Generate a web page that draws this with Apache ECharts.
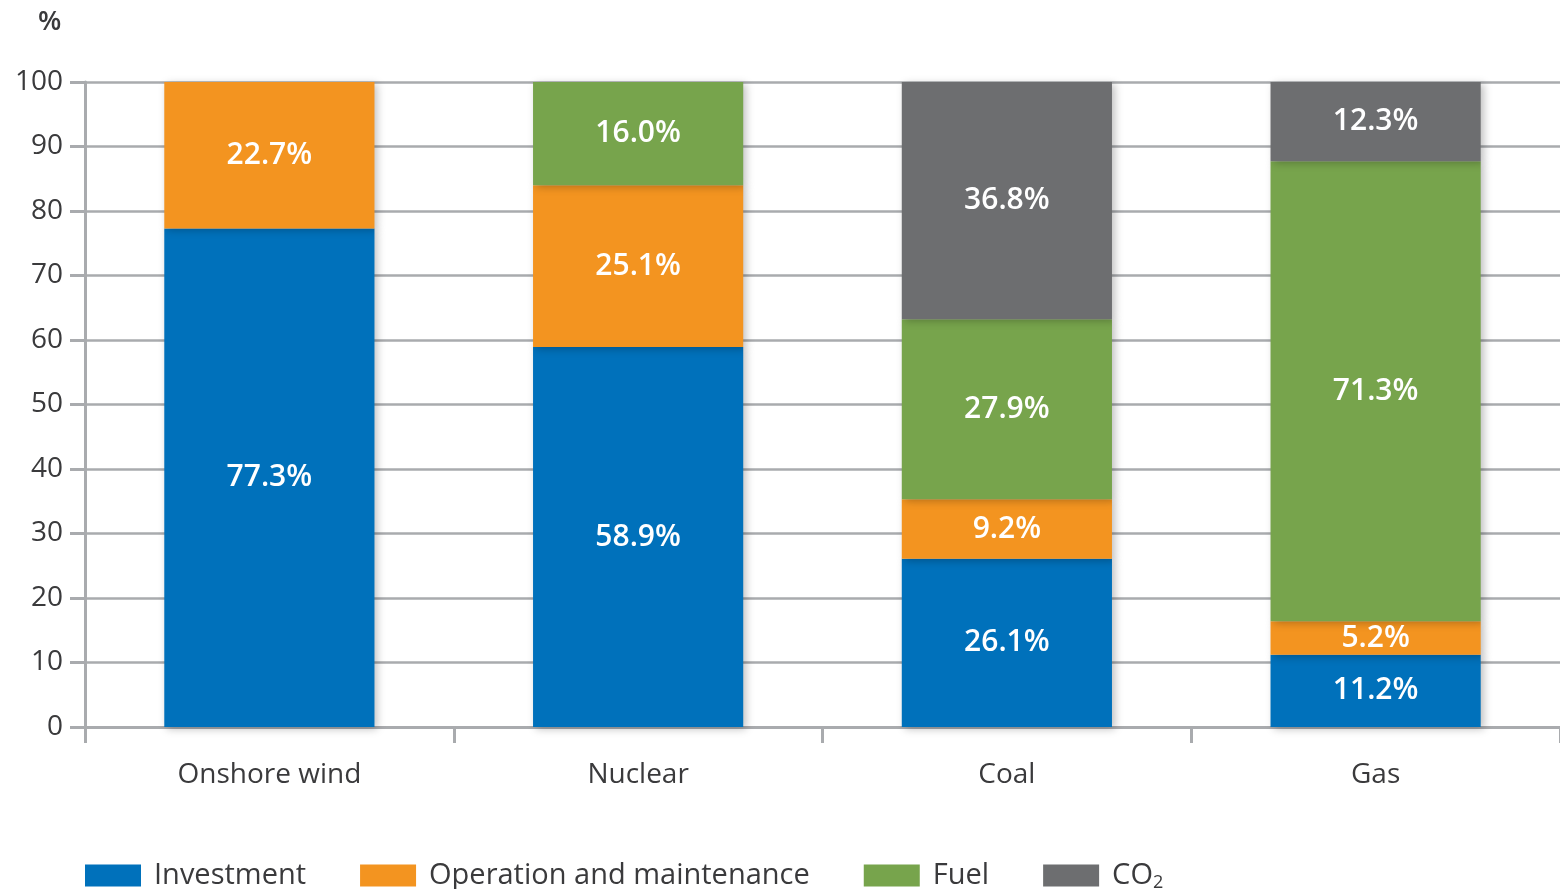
<!DOCTYPE html>
<html>
<head>
<meta charset="utf-8">
<script src="https://cdn.jsdelivr.net/npm/echarts@6/dist/echarts.min.js"></script>
<style>
  html, body { margin: 0; padding: 0; background: #fff; }
  #main { width: 1560px; height: 889px; }
</style>
</head>
<body>
<div id="main"></div>
<script>
  var categories = ['Onshore wind', 'Nuclear', 'Coal', 'Gas'];
  var investment = [77.3, 58.9, 26.1, 11.2];
  var operation = [22.7, 25.1, 9.2, 5.2];
  var fuel = ['-', 16.0, 27.9, 71.3];
  var co2 = ['-', '-', 36.8, 12.3];
  var yTicks = [0, 10, 20, 30, 40, 50, 60, 70, 80, 90, 100];

  var font = '"Open Sans", "Noto Sans", sans-serif';
  var gridGray = '#a9abae';
  var textColor = '#3a3a3c';

  function makeSeries(name, data, color) {
    return {
      name: name,
      type: 'bar',
      stack: 'total',
      barWidth: '57%',
      data: data,
      itemStyle: {
        color: color,
        shadowColor: 'rgba(0,0,0,0.25)',
        shadowBlur: 8,
        shadowOffsetX: 3,
        shadowOffsetY: 2
      },
      label: {
        show: true,
        position: 'inside',
        color: '#fff',
        fontFamily: font,
        fontSize: 30,
        fontWeight: 600,
        formatter: function (p) { return p.value.toFixed(1) + '%'; }
      }
    };
  }

  var chart = echarts.init(document.getElementById('main'));
  chart.setOption({
    animation: false,
    backgroundColor: '#fff',
    title: {
      text: '%',
      left: 33,
      top: 4,
      textStyle: { fontFamily: font, fontSize: 27, fontWeight: 600, color: textColor }
    },
    grid: { left: 85, top: 82, bottom: 162, width: 1477 },
    legend: {
      left: 85,
      top: 861,
      padding: 0,
      itemWidth: 56,
      itemHeight: 22,
      itemGap: 54,
      icon: 'rect',
      data: ['Investment', 'Operation and maintenance', 'Fuel', 'CO2'],
      formatter: function (n) {
        return n === 'CO2' ? '{t|CO}{s|2}' : '{t|' + n + '}';
      },
      textStyle: {
        fontFamily: font,
        fontSize: 29,
        color: textColor,
        padding: [0, 0, 0, 8],
        rich: {
          t: { fontFamily: font, fontSize: 29, color: textColor },
          s: { fontFamily: font, fontSize: 18, color: textColor, verticalAlign: 'bottom', padding: [14, 0, 0, 0] }
        }
      }
    },
    xAxis: {
      type: 'category',
      data: categories,
      axisLine: { show: true, lineStyle: { color: gridGray, width: 3 } },
      axisTick: { show: true, length: 16, lineStyle: { color: gridGray, width: 3 } },
      axisLabel: { margin: 34, fontFamily: font, fontSize: 28, color: textColor }
    },
    yAxis: {
      type: 'value',
      min: 0,
      max: 100,
      interval: 10,
      axisLine: { show: true, lineStyle: { color: gridGray, width: 3 } },
      axisTick: { show: true, length: 15, lineStyle: { color: gridGray, width: 3 } },
      splitLine: { show: true, lineStyle: { color: gridGray, width: 2.5 } },
      axisLabel: {
        margin: 22,
        fontFamily: font,
        fontSize: 28,
        color: textColor,
        formatter: function (v) { return yTicks.indexOf(v) >= 0 ? String(v) : ''; }
      }
    },
    series: [
      makeSeries('Investment', investment, '#0071bb'),
      makeSeries('Operation and maintenance', operation, '#f39420'),
      makeSeries('Fuel', fuel, '#77a44c'),
      makeSeries('CO2', co2, '#6d6e70')
    ]
  });
</script>
</body>
</html>
